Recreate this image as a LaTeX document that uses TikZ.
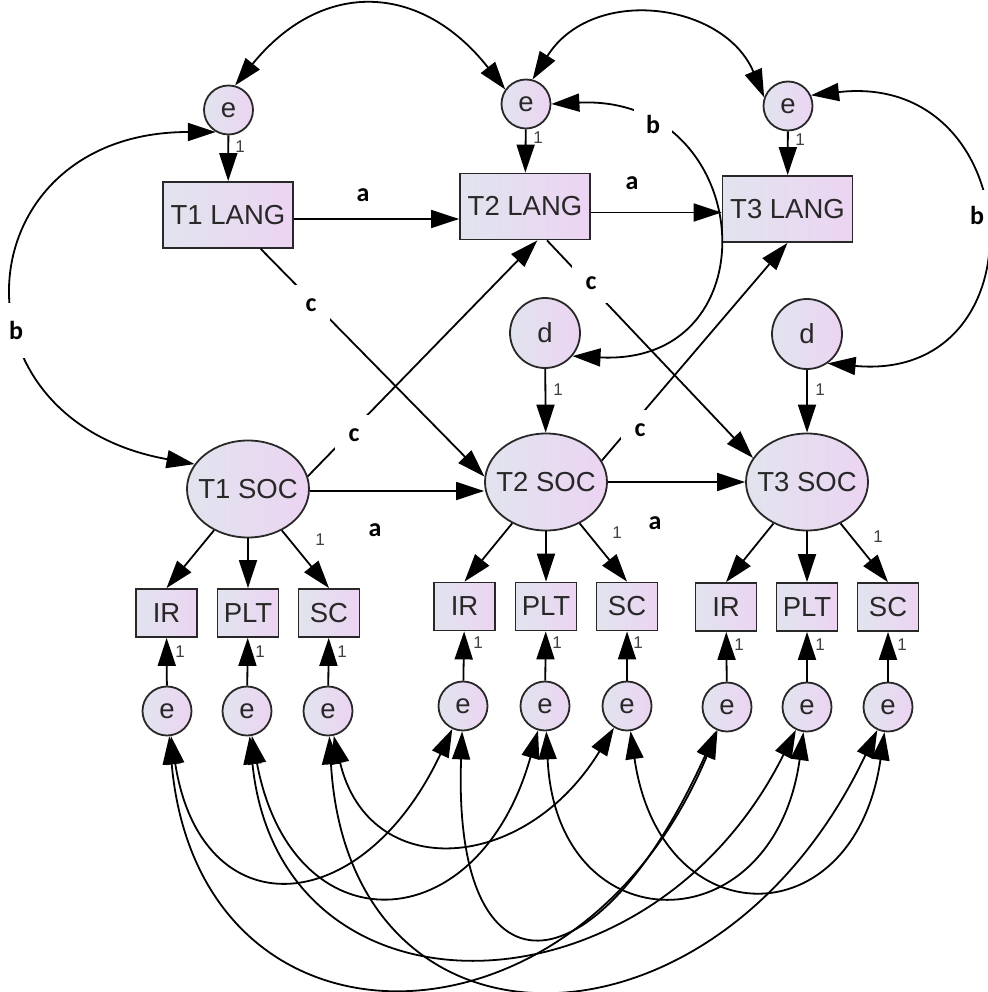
\documentclass[tikz,border=0pt]{standalone}
\usepackage{fontspec}
\setmainfont{Liberation Sans}
\newfontfamily\labfont{Carlito}
\usetikzlibrary{arrows.meta,shapes.geometric}
\definecolor{nodeL}{RGB}{225,228,238}
\definecolor{nodeR}{RGB}{236,212,242}
\definecolor{edgeC}{RGB}{40,40,40}
\definecolor{txtC}{RGB}{40,40,40}
\newcommand\socbox[1]{\makebox[40pt]{#1}}
\begin{document}
\begin{tikzpicture}[x=1pt,y=-1pt,
  every node/.style={inner sep=0pt, text=txtC},
  var/.style={draw=edgeC, line width=1.8pt, left color=nodeL, right color=nodeR, font=\fontsize{27.5}{30}\selectfont},
  langbox/.style={var, rectangle, minimum width=130pt, minimum height=66pt},
  indbox/.style={var, rectangle, minimum width=61pt, minimum height=48pt},
  soc/.style={var, ellipse, minimum width=122pt, minimum height=97pt},
  errc/.style={var, circle, minimum size=49pt},
  distc/.style={var, circle, minimum size=70pt},
  arr/.style={draw=black, line width=1.8pt, -{Triangle[length=28pt,width=18pt]}},
  cov/.style={draw=black, line width=1.8pt, {Triangle[length=28pt,width=18pt]}-{Triangle[length=28pt,width=18pt]}},
  one/.style={font=\fontsize{17}{17}\selectfont, text=black!75},
  lbl/.style={fill=white, font=\labfont\bfseries\fontsize{26}{26}\selectfont, text=black, minimum width=38pt, minimum height=40pt},
]
\fill[white] (0,0) rectangle (987,992);
\useasboundingbox (0,0) rectangle (987,992);

% top error terms and language boxes
\node[errc] (eL1) at (228.5,110) {e};
\node[errc] (eL2) at (526,104) {e};
\node[errc] (eL3) at (788,106) {e};
\node[langbox] (L1) at (228,215) {T1 LANG};
\node[langbox] (L2) at (525,206.5) {T2 LANG};
\node[langbox] (L3) at (787.5,209) {T3 LANG};
% disturbances
\node[distc] (d2) at (545,333) {d};
\node[distc] (d3) at (807,334) {d};
% latent SOC
\node[soc] (S1) at (248,489) {\socbox{T1 SOC}};
\node[soc] (S2) at (546,482) {\socbox{T2 SOC}};
\node[soc] (S3) at (807,482) {\socbox{T3 SOC}};
% indicators
\node[indbox] (IR1) at (166.5,613) {IR};
\node[indbox] (PLT1) at (248,613) {PLT};
\node[indbox] (SC1) at (329,613) {SC};
\node[indbox] (IR2) at (464.5,606.5) {IR};
\node[indbox] (PLT2) at (546,606.5) {PLT};
\node[indbox] (SC2) at (627,606.5) {SC};
\node[indbox] (IR3) at (726,607) {IR};
\node[indbox] (PLT3) at (807,607) {PLT};
\node[indbox] (SC3) at (888,607) {SC};
% indicator errors
\node[errc] (eI1) at (167,711) {e};
\node[errc] (eP1) at (247,711) {e};
\node[errc] (eS1) at (328,711) {e};
\node[errc] (eI2) at (463,706) {e};
\node[errc] (eP2) at (545,706) {e};
\node[errc] (eS2) at (627,706) {e};
\node[errc] (eI3) at (727,707) {e};
\node[errc] (eP3) at (807,707) {e};
\node[errc] (eS3) at (888,707) {e};

% regression paths
\draw[arr] (eL1) -- (L1);
\draw[arr] (eL2) -- (L2);
\draw[arr] (eL3) -- (L3);
\draw[arr] ([yshift=-4pt]L1.east) -- ([yshift=-4pt]L1.east -| L2.west);
\draw[arr] ([yshift=-6pt]L2.east) -- ([yshift=-6pt]L2.east -| L3.west);
\draw[arr] (L1.-46) -- (S2.175);
\draw[arr] (S1.12) -- (L2.-70);
\draw[arr] (L2.-57) -- (S3.156);
\draw[arr] (S2.21) -- (L3.south);
\draw[arr] ([yshift=-2pt]S1.east) -- ([yshift=-2pt]S1.east -| S2.west);
\draw[arr] (S2) -- (S3);
\draw[arr] (d2) -- (S2);
\draw[arr] (d3) -- (S3);
\foreach \i in {1,2,3}{
  \draw[arr] (S\i) -- (IR\i.north);
  \draw[arr] (S\i) -- (PLT\i.north);
  \draw[arr] (S\i) -- (SC\i.north);
  \draw[arr] (eI\i) -- (IR\i);
  \draw[arr] (eP\i) -- (PLT\i);
  \draw[arr] (eS\i) -- (SC\i);
}

% covariances top
\draw[cov] (eL1.75) .. controls +(87,-107) and +(-84,-107) .. (eL2.145);
\draw[cov] (eL2.75) .. controls +(60,-95) and +(-40,-95) .. (eL3.160);
\draw[cov] (eL1.-120) .. controls +(-252,0) and +(-252,-45) .. (S1.155);
\draw[cov] (eL2.0) .. controls +(204,-10) and +(204,10) .. (d2.-40);
\draw[cov] (eL3.25) .. controls +(218,-25) and +(218,20) .. (d3.-55);

% covariances bottom
\draw[cov] (eI1.-81) .. controls +(30,193) and +(-91,193) .. (eI2.-115);
\draw[cov] (eP1.-79) .. controls +(40,213) and +(-60,213) .. (eP2.-106);
\draw[cov] (eS1.-77) .. controls +(35,147) and +(-90,147) .. (eS2.-121);
\draw[cov] (eI1.-85) .. controls +(30,335) and +(-140,335) .. (eI3.-112);
\draw[cov] (eP1.-84) .. controls +(30,295) and +(-147,295) .. (eP3.-116);
\draw[cov] (eS1.-87) .. controls +(20,338) and +(-160,338) .. (eS3.-115);
\draw[cov] (eI2.-92) .. controls +(-10,271) and +(-123,271) .. (eI3.-114);
\draw[cov] (eP2.-87) .. controls +(10,215) and +(-30,215) .. (eP3.-98);
\draw[cov] (eS2.-82) .. controls +(30,207) and +(-30,207) .. (eS3.-98);

% fixed loadings
\node[one] (o1) at (240,147) {1};
\node[one] (o2) at (538,138) {1};
\node[one] (o3) at (800,140) {1};
\node[one] (o4) at (558,390) {1};
\node[one] (o5) at (820,390) {1};
\node[one] (o6) at (320,540) {1};
\node[one] (o7) at (617,533) {1};
\node[one] (o8) at (878,537) {1};
\node[one] (o9) at (180,652) {1};
\node[one] (o10) at (260,652) {1};
\node[one] (o11) at (342,652) {1};
\node[one] (o12) at (478,643) {1};
\node[one] (o13) at (557,643) {1};
\node[one] (o14) at (638,643) {1};
\node[one] (o15) at (739,645) {1};
\node[one] (o16) at (820,645) {1};
\node[one] (o17) at (902,645) {1};

% path labels
\node[lbl] (la1) at (363,195) {a};
\node[lbl] (la2) at (632,183) {a};
\node[lbl] (la3) at (375,530) {a};
\node[lbl] (la4) at (655,523) {a};
\node[lbl, minimum height=55pt] (lb1) at (16,330) {b};
\node[lbl, minimum height=50pt] (lb2) at (653,124) {b};
\node[lbl, minimum height=50pt, minimum width=30pt] (lb3) at (977,215) {b};
\node[lbl] (lc1) at (311,305) {c};
\node[lbl] (lc2) at (354,435) {c};
\node[lbl] (lc3) at (591,283) {c};
\node[lbl] (lc4) at (640,430) {c};
\end{tikzpicture}
\end{document}
